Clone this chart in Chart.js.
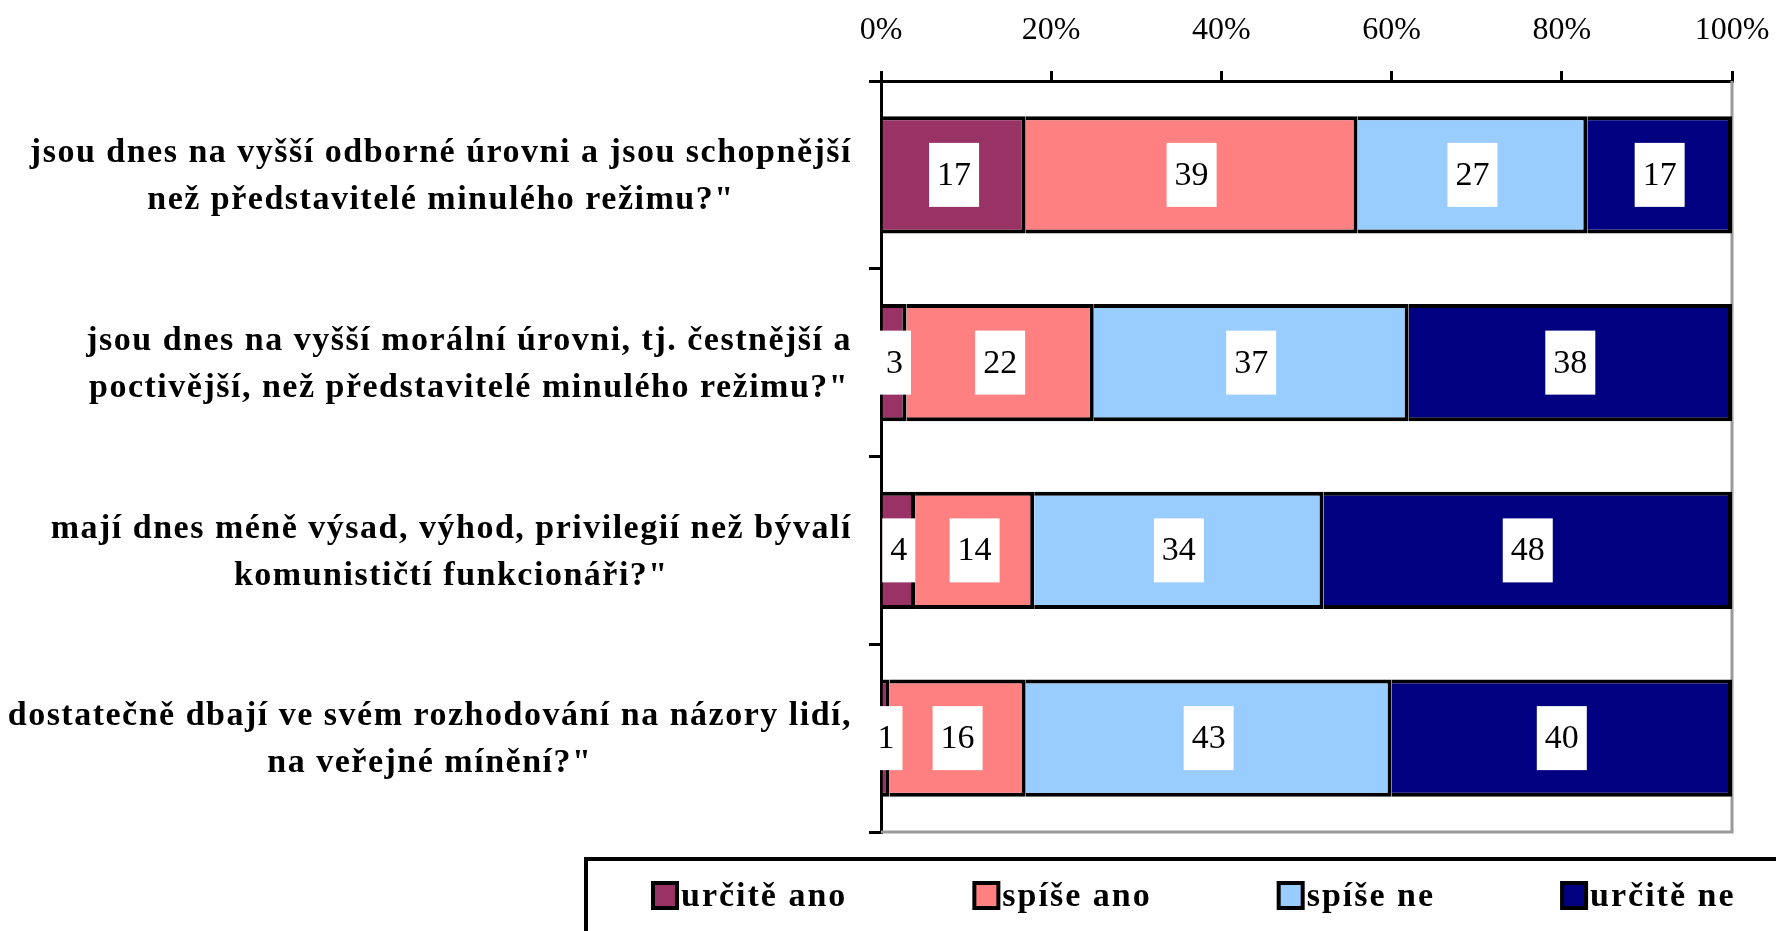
<!DOCTYPE html>
<html>
<head>
<meta charset="utf-8">
<style>
  html, body { margin: 0; padding: 0; background: #fff; }
</style>
<script src="https://cdn.jsdelivr.net/npm/chart.js@4.4.0/dist/chart.umd.min.js"></script>
</head>
<body>
<canvas id="chart" width="1776" height="931"></canvas>
<script>
// otázky (každá na dva řádky)
const categories = [
  ["jsou dnes na vyšší odborné úrovni a jsou schopnější", "než představitelé minulého režimu?\""],
  ["jsou dnes na vyšší morální úrovni, tj. čestnější a", "poctivější, než představitelé minulého režimu?\""],
  ["mají dnes méně výsad, výhod, privilegií než bývalí", "komunističtí funkcionáři?\""],
  ["dostatečně dbají ve svém rozhodování na názory lidí,", "na veřejné mínění?\""]
];
const seriesNames = ["určitě ano", "spíše ano", "spíše ne", "určitě ne"];
const urciteAno = [17, 3, 4, 1];
const spiseAno = [39, 22, 14, 16];
const spiseNe = [27, 37, 34, 43];
const urciteNe = [17, 38, 48, 40];
const xTicks = [0, 20, 40, 60, 80, 100];
const colors = ["#993366", "#FF8080", "#99CCFF", "#000080"];

const series = [urciteAno, spiseAno, spiseNe, urciteNe];

// šedý rámeček vpravo a dole
const frame = {
  id: "frame",
  beforeDatasetsDraw(chart) {
    const { ctx, chartArea: a } = chart;
    ctx.save();
    ctx.strokeStyle = "#9a9a9a";
    ctx.lineWidth = 3;
    ctx.beginPath();
    ctx.moveTo(a.left, a.bottom);
    ctx.lineTo(a.right, a.bottom);
    ctx.lineTo(a.right, a.top);
    ctx.stroke();
    ctx.restore();
  },
};

// hodnoty v bílých rámečcích
const valueBoxes = {
  id: "valueBoxes",
  afterDatasetsDraw(chart) {
    const ctx = chart.ctx;
    ctx.save();
    ctx.font = '34px "Liberation Serif"';
    ctx.textAlign = "center";
    ctx.textBaseline = "middle";
    chart.data.datasets.forEach((ds, i) => {
      chart.getDatasetMeta(i).data.forEach((bar, j) => {
        const p = bar.getCenterPoint();
        const txt = String(ds.data[j]);
        const w = ctx.measureText(txt).width + 16;
        ctx.fillStyle = "#fff";
        ctx.fillRect(p.x - w / 2, p.y - 32, w, 64);
        ctx.fillStyle = "#000";
        ctx.fillText(txt, p.x, p.y + 1);
      });
    });
    ctx.restore();
  },
};

// popisky otázek, řádky vycentrované v rámci bloku
const categoryLabels = {
  id: "categoryLabels",
  afterDraw(chart) {
    const { ctx, chartArea } = chart;
    const yScale = chart.scales.y;
    ctx.save();
    ctx.font = 'bold 34px "Liberation Serif"';
    ctx.letterSpacing = "1.5px";
    ctx.fillStyle = "#000";
    ctx.textAlign = "center";
    ctx.textBaseline = "middle";
    const right = chartArea.left - 29;
    categories.forEach((lines, i) => {
      const y = yScale.getPixelForValue(i) + 2;
      const block = Math.max(...lines.map((l) => ctx.measureText(l).width));
      const cx = right - block / 2;
      lines.forEach((l, k) => {
        ctx.fillText(l, cx, y + (k - (lines.length - 1) / 2) * 47);
      });
    });
    ctx.restore();
  },
};

// legenda v rámečku dole
const legendBox = {
  id: "legendBox",
  afterDraw(chart) {
    const { ctx, chartArea } = chart;
    const left = 586;
    const top = chartArea.bottom + 27;
    ctx.save();
    ctx.strokeStyle = "#000";
    ctx.lineWidth = 4;
    ctx.strokeRect(left, top, chart.width, 200);
    ctx.font = 'bold 34px "Liberation Serif"';
    ctx.letterSpacing = "2px";
    ctx.textBaseline = "middle";
    ctx.textAlign = "left";
    let x = left + 65;
    const cy = top + 37;
    seriesNames.forEach((name, i) => {
      ctx.fillStyle = colors[i];
      ctx.fillRect(x + 2, cy - 13, 24, 25);
      ctx.lineWidth = 4;
      ctx.strokeRect(x + 2, cy - 13, 24, 25);
      ctx.fillStyle = "#000";
      ctx.fillText(name, x + 30, cy + 1);
      x += 30 + ctx.measureText(name).width + 125;
    });
    ctx.restore();
  },
};

const ctx = document.getElementById("chart").getContext("2d");
new Chart(ctx, {
  type: "bar",
  data: {
    labels: categories,
    datasets: series.map((d, i) => ({
      label: seriesNames[i],
      data: d,
      backgroundColor: colors[i],
      borderColor: "#000",
      borderWidth: { top: 4, bottom: 4, left: 0, right: 4 },
      borderSkipped: false,
      categoryPercentage: 1,
      barPercentage: 0.625,
    })),
  },
  options: {
    indexAxis: "y",
    responsive: false,
    animation: false,
    layout: { padding: { top: 9, left: 869, right: 44, bottom: 99 } },
    plugins: { legend: { display: false }, tooltip: { enabled: false } },
    scales: {
      x: {
        position: "top",
        stacked: true,
        min: 0,
        max: 100,
        afterBuildTicks: (axis) => {
          axis.ticks = xTicks.map((v) => ({ value: v }));
        },
        afterFit: (axis) => {
          axis.height = 72;
        },
        ticks: {
          callback: (v) => v + "%",
          font: { family: "Liberation Serif", size: 32, lineHeight: 2.25 },
          color: "#000",
          padding: 4,
          maxRotation: 0,
        },
        grid: { drawOnChartArea: false, drawTicks: true, tickLength: 10, color: "#000", lineWidth: 3 },
        border: { display: true, color: "#000", width: 3 },
      },
      y: {
        stacked: true,
        ticks: { display: false },
        grid: { drawOnChartArea: false, tickLength: 12, color: "#000", lineWidth: 3, offset: true },
        border: { color: "#000", width: 3 },
      },
    },
  },
  plugins: [frame, valueBoxes, categoryLabels, legendBox],
});
</script>
</body>
</html>
